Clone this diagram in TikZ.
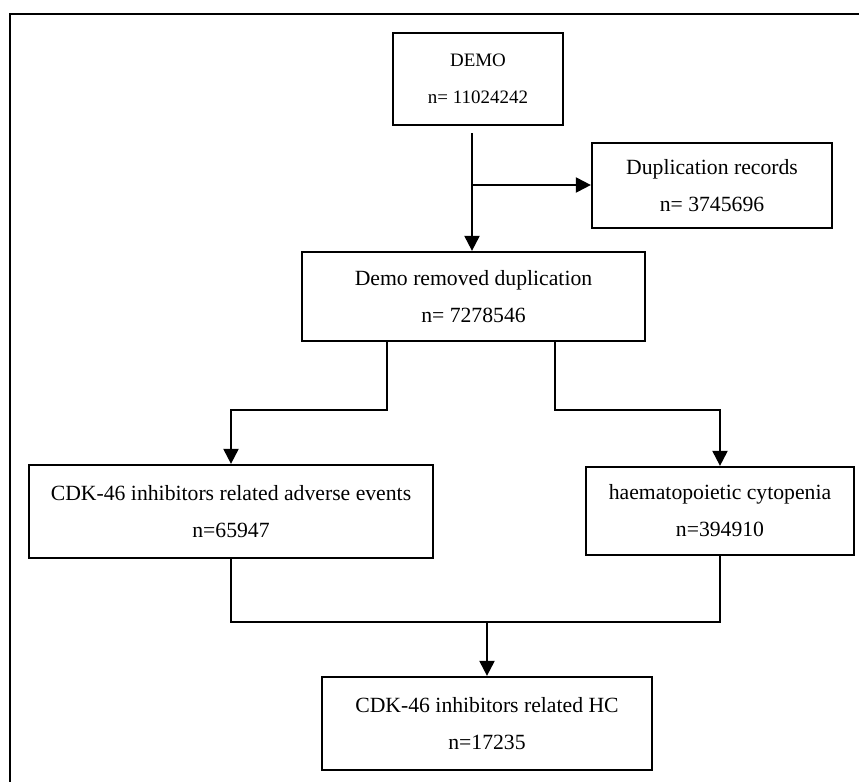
\documentclass[tikz,border=0pt]{standalone}
\usepackage{fontspec}
\setmainfont{Liberation Serif}
\usepackage{tikz}
\usetikzlibrary{calc}
\usetikzlibrary{arrows.meta}
\tikzset{stepbox/.style={draw=black, line width=1.3pt, align=center, inner sep=0pt,
  font=\fontsize{12.35}{21}\selectfont}}
\tikzset{flow/.style={black, line width=1.2pt, >={Triangle[length=3mm,width=3mm]}}}

\begin{document}
\begin{tikzpicture} [x=0.02cm, y=-0.02cm]
\useasboundingbox (0,0) rectangle (859,782);
\draw[line width=1.1pt] (859,14) -- (10,14) -- (10,782);
\node[stepbox, minimum width=3.4cm, minimum height=1.84cm, font=\fontsize{10.8}{21}\selectfont] (demo) at (478,79) {DEMO\\n= 11024242};
\node[stepbox, minimum width=4.8cm, minimum height=1.7cm] (dup) at (712,185.5) {Duplication records\\n= 3745696};
\node[stepbox, minimum width=6.86cm, minimum height=1.78cm] (rem) at (473.5,296.5) {Demo removed duplication\\n= 7278546};
\node[stepbox, minimum width=8.08cm, minimum height=1.86cm] (cdk) at (231,511.5) {CDK-46 inhibitors related adverse events\\n=65947};
\node[stepbox, minimum width=5.36cm, minimum height=1.76cm] (hem) at (720,511) {haematopoietic cytopenia\\n=394910};
\node[stepbox, minimum width=6.6cm, minimum height=1.86cm] (hc) at (487,723.5) {CDK-46 inhibitors related HC\\n=17235};
\coordinate (split) at (472,185);
\coordinate (bl) at (387,410);
\coordinate (br) at (555,410);
\coordinate (mj) at (487,622);
\draw[flow,->] ($(demo.south -| split)+(0,7)$) -- (rem.north -| split);
\draw[flow,->] (split) -- (dup.west |- split);
\draw[flow,->] (rem.south -| bl) -- (bl) -| (cdk.north);
\draw[flow,->] (rem.south -| br) -- (br) -| (hem.north);
\draw[flow] (cdk.south) |- (hem.south |- mj) -- (hem.south);
\draw[flow,->] (mj) -- (hc.north -| mj);
\end{tikzpicture}
\end{document}
